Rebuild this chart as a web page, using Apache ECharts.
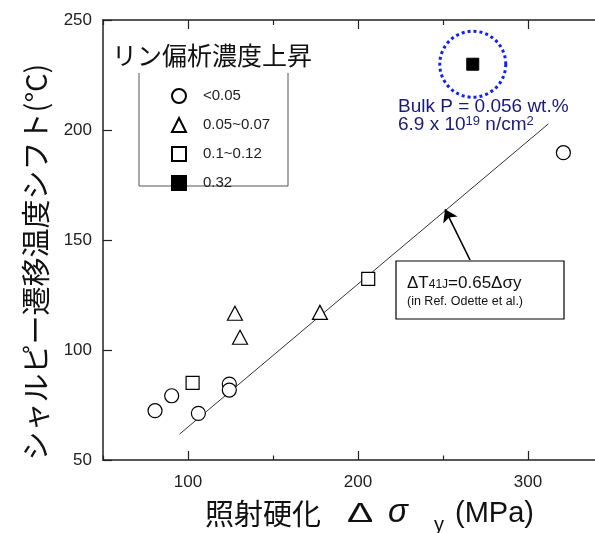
<!DOCTYPE html>
<html><head><meta charset="utf-8">
<script src="https://cdn.jsdelivr.net/npm/echarts@6/dist/echarts.min.js"></script>
<style>html,body{margin:0;padding:0;background:#fff}#c{width:595px;height:533px}</style>
</head><body><div id="c"></div>
<script>
// ---- data ----
const circleData   = [[80.6,72.4],[90.4,79.2],[106.1,71.2],[124.3,84.5],[124.3,81.8],[320.8,189.7]];
const triangleData = [[127.6,116.7],[130.6,105.8],[177.6,117.1]];
const squareData   = [[102.7,85.1],[206,132.3]];
const filledData   = [[267.5,229.9]];
const fitLine      = [[95,61.75],[312,202.8]];
const arrowFrom    = [265.9,140.9];
const arrowTo      = [251.2,163.95];
const xLabelValues = [100,200,300];
const xMinorTicks  = [50,150,250];
const seriesNames  = ['<0.05','0.05~0.07','0.1~0.12','0.32'];
const xMin = 50, xMax = 339.4;   // visible part of the x axis (plot is cut at the right edge)

const LAT = 'Liberation Sans, Arial, Noto Sans CJK JP, sans-serif';
const JP = 'Noto Sans CJK JP, Liberation Sans, sans-serif';
const chart = echarts.init(document.getElementById('c'), null, {renderer:'canvas'});
const axisLine = {show:true, lineStyle:{color:'#222', width:1.5}};

const openStyle = {color:'#fff', borderColor:'#000', borderWidth:1.2, opacity:1};

chart.setOption({
  backgroundColor:'#fff',
  animation:false,
  textStyle:{fontFamily:LAT},
  grid:[{left:103, top:20, right:0, height:440, containLabel:false}],
  xAxis:[
    {type:'value', min:xMin, max:xMax, position:'bottom',
     axisLine, splitLine:{show:false},
     axisTick:{show:true, inside:true, length:9, customValues:xLabelValues, lineStyle:{color:'#222', width:1.2}},
     axisLabel:{show:true, customValues:xLabelValues, fontSize:17, color:'#222', margin:14, fontFamily:LAT}},
    {type:'value', min:xMin, max:xMax, position:'bottom',
     axisLine:{show:false}, splitLine:{show:false},
     axisTick:{show:true, inside:true, length:4.5, customValues:xMinorTicks, lineStyle:{color:'#222', width:1.2}},
     axisLabel:{show:false}},
    {type:'value', min:xMin, max:xMax, position:'top',
     axisLine, splitLine:{show:false},
     axisTick:{show:true, inside:true, length:9, customValues:xLabelValues, lineStyle:{color:'#222', width:1.2}},
     axisLabel:{show:false}},
    {type:'value', min:xMin, max:xMax, position:'top',
     axisLine:{show:false}, splitLine:{show:false},
     axisTick:{show:true, inside:true, length:5, customValues:xMinorTicks, lineStyle:{color:'#222', width:1.2}},
     axisLabel:{show:false}}
  ],
  yAxis:[
    {type:'value', min:50, max:250, interval:50, position:'left',
     axisLine, splitLine:{show:false},
     axisTick:{show:true, inside:true, length:9, lineStyle:{color:'#222', width:1.2}},
     axisLabel:{fontSize:17, color:'#222', margin:11, fontFamily:LAT}}
  ],
  legend:{
    data:seriesNames, orient:'vertical', left:166, top:83,
    itemWidth:14, itemHeight:14, itemGap:13,
    textStyle:{fontSize:15, color:'#222', fontFamily:LAT, padding:[0,0,0,12], lineHeight:14},
    selectedMode:false
  },
  series:[
    {name:'fit', type:'line', data:fitLine, symbol:'none', z:1,
     lineStyle:{color:'#333', width:1},
     markLine:{silent:true, symbol:['none','arrow'], symbolSize:12, label:{show:false},
       lineStyle:{color:'#000', width:1.6, type:'solid'},
       data:[[{coord:arrowFrom},{coord:arrowTo}]]}},
    {name:'highlight', type:'scatter', data:filledData, symbol:'circle', symbolSize:66, z:1,
     itemStyle:{color:'rgba(0,0,0,0)', borderColor:'#0f22f0', borderWidth:3, borderType:[3,3], opacity:1}},
    {name:seriesNames[0], type:'scatter', data:circleData, symbol:'circle', symbolSize:14, itemStyle:openStyle},
    {name:seriesNames[1], type:'scatter', data:triangleData, symbol:'triangle', symbolSize:[15,14], itemStyle:openStyle},
    {name:seriesNames[2], type:'scatter', data:squareData, symbol:'rect', symbolSize:13, itemStyle:openStyle},
    {name:seriesNames[3], type:'scatter', data:filledData, symbol:'rect', symbolSize:12, itemStyle:{color:'#000', borderColor:'#000', borderWidth:1, opacity:1}}
  ],
  graphic:[
    {type:'polyline', shape:{points:[[139,73],[139,186],[288,186],[288,73]]}, style:{stroke:'#555', lineWidth:1, fill:null}},
    {type:'text', x:112, y:55, style:{text:'リン偏析濃度上昇', font:'25px '+JP, fill:'#111', verticalAlign:'middle'}},
    {type:'text', x:36, y:262, rotation:Math.PI/2,
     style:{text:'シャルピー遷移温度シフト(°C)', font:'29px '+JP, fill:'#111', align:'center', verticalAlign:'middle'}},
    {type:'group', children:[
      {type:'text', x:205, y:514, style:{text:'照射硬化', font:'29px '+JP, fill:'#111', verticalAlign:'middle'}},
      {type:'text', x:360, y:514, scaleX:1.4, style:{text:'Δ', font:'28px '+LAT, fill:'#111', align:'center', verticalAlign:'middle'}},
      {type:'text', x:388, y:513, style:{text:'σ', font:'italic 33px '+LAT, fill:'#111', verticalAlign:'middle'}},
      {type:'text', x:434, y:525, style:{text:'y', font:'20px '+LAT, fill:'#111', verticalAlign:'middle'}},
      {type:'text', x:455, y:514, style:{text:'(MPa)', font:'29px '+LAT, fill:'#111', verticalAlign:'middle'}}
    ]},
    {type:'text', x:398, y:98,
     style:{text:'Bulk P = 0.056 wt.%\n6.9 x 10{sup|19} n/cm{sup|2}', fill:'#1a1a7a', font:'19px '+LAT, lineHeight:18,
       rich:{sup:{fontSize:13, fontFamily:LAT, fill:'#1a1a7a', padding:[0,0,8,0]}}}},
    {type:'rect', shape:{x:396, y:261, width:168, height:58}, style:{stroke:'#000', lineWidth:1.2, fill:'#fff'}, z:10},
    {type:'text', x:407, y:283, z:11,
     style:{text:'ΔT{sb|41J}=0.65Δσy', fill:'#111', font:'17px '+LAT, verticalAlign:'middle',
       rich:{sb:{fontSize:12, fontFamily:LAT, padding:[3,0,0,0]}}}},
    {type:'text', x:407, y:302, z:11,
     style:{text:'(in Ref. Odette et al.)', fill:'#111', font:'12.5px '+LAT, verticalAlign:'middle'}}
  ]
});
</script></body></html>
